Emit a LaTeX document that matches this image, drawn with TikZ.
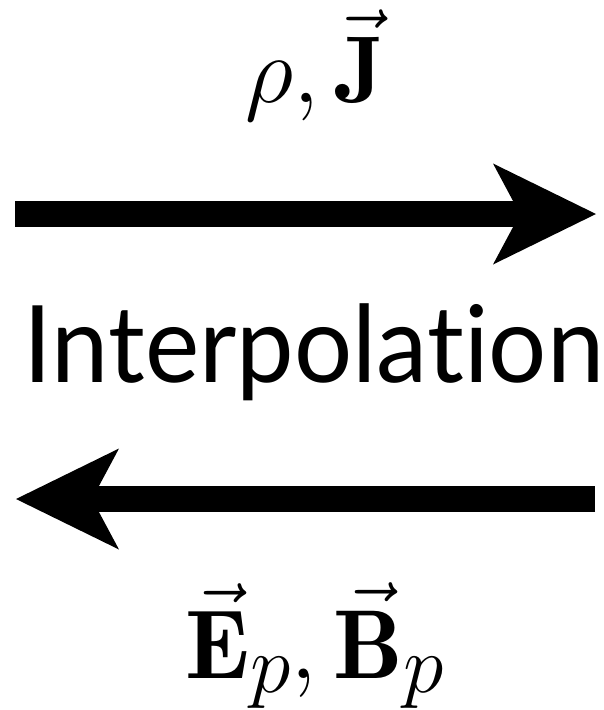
\RequirePackage{fix-cm}
\documentclass[tikz,border=0pt]{standalone}
\usepackage{amsmath}
\usepackage{fontspec}
\newfontfamily\interpfont[Ligatures=NoCommon, FakeStretch=0.96]{Lato}
\newcommand{\bigsub}[1]{_{\text{\fontsize{82}{84}\selectfont$#1$}}}
\usetikzlibrary{arrows.meta}

\begin{document}
\begin{tikzpicture}[
    x=1pt, y=-1pt,
    bigarrow/.style={line width=26pt, line cap=butt,
                     -{Stealth[length=103pt, width=101pt, inset=27pt, line width=0pt]}},
    toplabel/.style={anchor=base, inner sep=0pt, font=\fontsize{95}{100}\selectfont},
    botlabel/.style={anchor=base, inner sep=0pt, font=\fontsize{98}{102}\selectfont},
    bigword/.style={anchor=base, inner sep=0pt, font=\interpfont\fontsize{107}{120}\selectfont}
]
\useasboundingbox (0,0) rectangle (604,710);

% Enden der Pfeile
\coordinate (toptail) at (15,214);
\coordinate (tophead) at (596,214);
\coordinate (bottail) at (595,499);
\coordinate (bothead) at (16,499);

% Beschriftungen
\node[toplabel] (rhoJ) at (315,102) {$\rho, \vec{\mathbf{J}}$};
\node[bigword] (interp) at (314,382) {Interpolation};
\node[botlabel] (EB) at (315,678) {$\vec{\mathbf{E}}\bigsub{p}, \vec{\mathbf{B}}\bigsub{p}$};

% Pfeile
\draw[bigarrow] (toptail) -- (tophead);
\draw[bigarrow] (bottail) -- (bothead);

\end{tikzpicture}
\end{document}
